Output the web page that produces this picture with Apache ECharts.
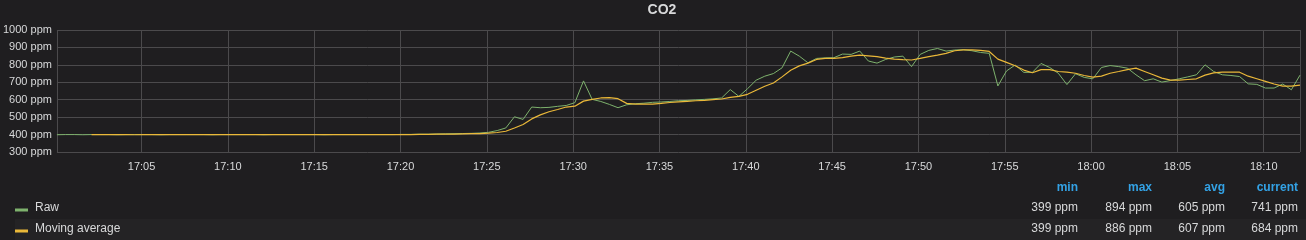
<!DOCTYPE html>
<html>
<head>
<meta charset="utf-8">
<script src="https://cdn.jsdelivr.net/npm/echarts@6/dist/echarts.min.js"></script>
<style>
html,body{margin:0;padding:0;background:#1f1e20;}
#c{width:1306px;height:240px;}
</style>
</head>
<body>
<div id="c"></div>
<script>
// ---- data ----
const title = 'CO2';
const startClock = [17, 0, 6];   // first sample 17:00:06
const stepSeconds = 30;          // one sample every 30 s

const rawValues = [
  399,400,400,399,400,400,400,399,400,400,
  400,400,399,400,400,400,400,400,399,400,
  400,400,400,400,399,400,400,400,400,400,
  400,399,400,400,400,400,400,400,400,400,
  401,401,402,402,403,404,405,406,407,409,
  413,423,438,502,487,558,554,556,562,567,
  583,708,602,590,573,554,571,577,580,585,
  587,590,594,596,599,602,605,610,658,619,
  663,712,735,750,783,879,850,812,837,840,
  841,862,860,879,822,810,831,845,850,790,
  860,883,894,879,885,887,881,871,866,679,
  765,799,757,757,808,785,752,687,749,728,
  720,785,796,790,781,743,709,720,701,710,
  720,731,743,800,762,743,739,733,691,688,
  667,667,690,657,741
];

const avgStartIndex = 4;  // moving average begins at the 5th sample
const avgValues = [
  400,400,400,400,400,399,400,400,400,400,
  400,400,400,400,400,400,400,400,400,400,
  400,400,400,400,400,400,400,400,400,400,
  400,400,400,400,400,400,
  400,400,401,401,402,402,403,404,405,406,
  408,412,419,438,458,490,513,531,544,558,
  563,592,602,610,612,606,579,575,575,575,
  579,584,588,591,594,596,600,604,613,619,
  631,654,677,696,731,769,794,810,831,837,
  837,841,850,856,852,847,839,833,830,828,
  837,847,856,866,881,886,886,883,877,833,
  814,795,770,755,773,773,762,758,752,739,
  730,735,752,762,773,781,762,743,724,712,
  712,716,720,741,754,758,758,758,735,720,
  705,690,678,678,684
];

const seriesNames = ['Raw', 'Moving average'];
const seriesColors = ['#7eb26d', '#eab839'];
const statHeaders = ['min', 'max', 'avg', 'current'];
const statRows = [
  ['399 ppm', '894 ppm', '605 ppm', '741 ppm'],
  ['399 ppm', '886 ppm', '607 ppm', '684 ppm']
];
const yMin = 300, yMax = 1000, yStep = 100;

// ---- build ----
function sampleTime(i) {
  const d = new Date(2024, 0, 1, startClock[0], startClock[1], startClock[2]);
  return d.getTime() + i * stepSeconds * 1000;
}
const rawData = rawValues.map((v, i) => [sampleTime(i), v]);
const avgData = avgValues.map((v, i) => [sampleTime(i + avgStartIndex), v]);

const FONT = '"Liberation Sans", Arial, Helvetica, sans-serif';
const TXT = '#d8d9da';
const statRight = [1078, 1152, 1225, 1298];
const rowY = [208, 229];

function pad2(n) { return (n < 10 ? '0' : '') + n; }

const graphics = [];
graphics.push({type:'rect', shape:{x:15, y:219, width:1291, height:21}, style:{fill:'#242325'}, silent:true, z:0});
seriesNames.forEach((n, r) => {
  graphics.push({type:'rect', shape:{x:15, y:rowY[r] + 0.5, width:13, height:3}, style:{fill:seriesColors[r]}, z:2});
  graphics.push({type:'text', x:35, y:rowY[r] - 0.5, style:{text:n, fill:TXT, font:'12px ' + FONT, textAlign:'left', textVerticalAlign:'middle'}, z:2});
  statRows[r].forEach((s, c) => {
    graphics.push({type:'text', x:statRight[c], y:rowY[r], style:{text:s, fill:TXT, font:'12px ' + FONT, textAlign:'right', textVerticalAlign:'middle'}, z:2});
  });
});
statHeaders.forEach((h, c) => {
  graphics.push({type:'text', x:statRight[c], y:188, style:{text:h, fill:'#33a2e5', font:'bold 12px ' + FONT, textAlign:'right', textVerticalAlign:'middle'}, z:2});
});
graphics.push({type:'text', x:662, y:10, style:{text:title, fill:TXT, font:'bold 14px ' + FONT, textAlign:'center', textVerticalAlign:'middle'}, z:2});

const chart = echarts.init(document.getElementById('c'), null, {renderer:'canvas'});
chart.setOption({
  backgroundColor:'#1f1e20',
  animation:false,
  textStyle:{fontFamily:FONT},
  grid:{left:56, right:6, top:30, bottom:88, containLabel:false},
  xAxis:{
    type:'time',
    min:rawData[0][0],
    max:rawData[rawData.length - 1][0],
    splitNumber:14,
    axisLine:{show:false},
    axisTick:{show:false},
    axisLabel:{
      color:TXT, fontSize:11, margin:9, showMinLabel:false, showMaxLabel:false, hideOverlap:true,
      formatter:function (v) { const d = new Date(v); return pad2(d.getHours()) + ':' + pad2(d.getMinutes()); }
    },
    splitLine:{show:true, lineStyle:{color:'#4b4a4c', width:1}}
  },
  yAxis:{
    type:'value',
    min:yMin, max:yMax, interval:yStep,
    axisLine:{show:false},
    axisTick:{show:false},
    axisLabel:{color:TXT, fontSize:11, margin:5, formatter:function (v) { return v + ' ppm'; }},
    splitLine:{show:true, lineStyle:{color:'#4b4a4c', width:1}}
  },
  series:[
    {name:seriesNames[0], type:'line', data:rawData, showSymbol:false, symbol:'none', lineStyle:{color:seriesColors[0], width:1}, itemStyle:{color:seriesColors[0]}, z:2},
    {name:seriesNames[1], type:'line', data:avgData, showSymbol:false, symbol:'none', lineStyle:{color:seriesColors[1], width:1.2}, itemStyle:{color:seriesColors[1]}, z:3}
  ],
  graphic:graphics
});
</script>
</body>
</html>
